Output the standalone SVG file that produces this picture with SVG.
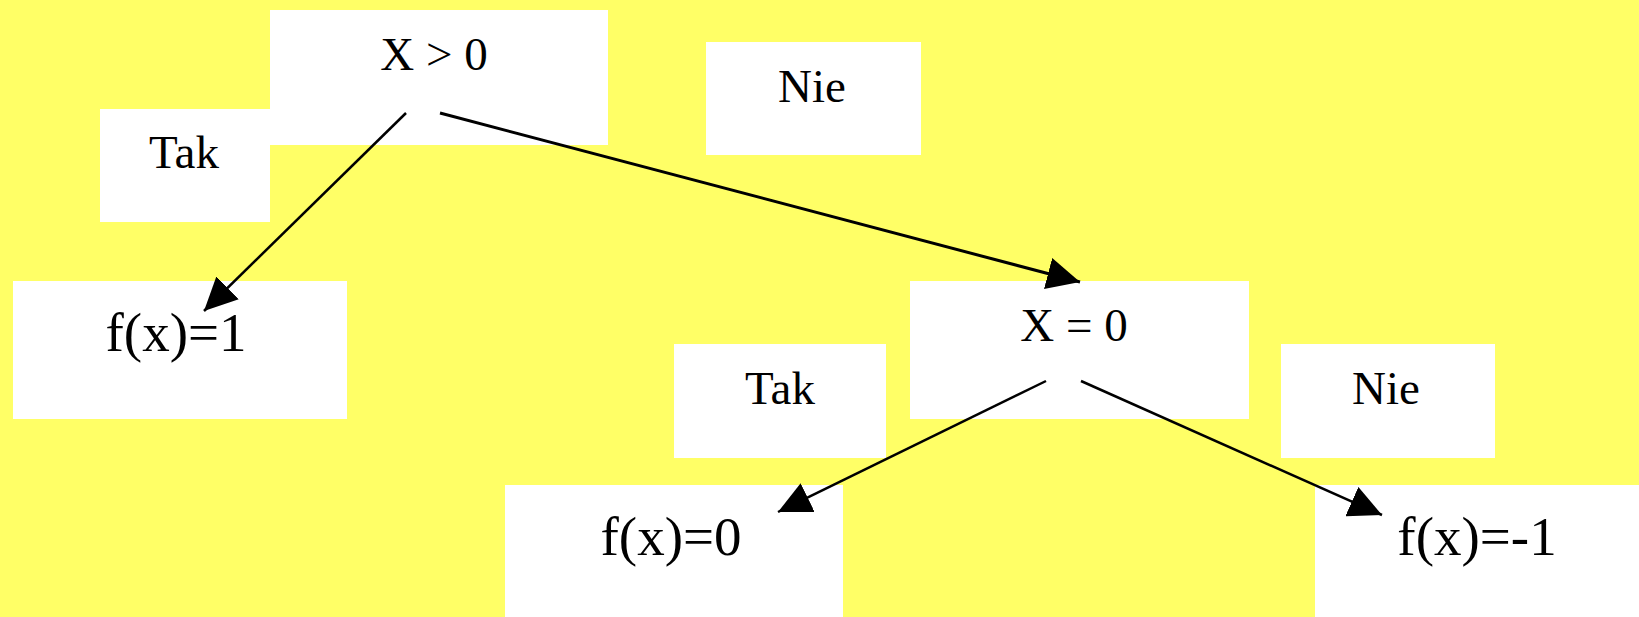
<svg xmlns="http://www.w3.org/2000/svg" width="1639" height="617" viewBox="0 0 1639 617">
<style>
.box{fill:#ffffff;stroke:none}
.lbl{font-family:"Liberation Serif","Times New Roman",serif;font-size:47px;fill:#000;text-anchor:middle}
.fx{font-family:"Liberation Serif","Times New Roman",serif;font-size:55px;fill:#000;text-anchor:middle}
.edge{stroke:#000;stroke-width:2.5;fill:none;marker-end:url(#ah)}
</style>
<defs>
<marker id="ah" viewBox="0 0 33 32" refX="33" refY="16" markerWidth="33" markerHeight="32" markerUnits="userSpaceOnUse" orient="auto">
<path d="M0,0 L33,16 L0,32 z" fill="#000"/>
</marker>
</defs>
<rect x="0" y="0" width="1639" height="617" fill="#ffff66"/>
<g id="n-x-gt-0"><rect class="box" x="270" y="10" width="338" height="135"/><text class="lbl" x="434" y="70">X &gt; 0</text></g>
<g id="l-tak-1"><rect class="box" x="100" y="109" width="170" height="113"/><text class="lbl" x="184" y="168">Tak</text></g>
<g id="l-nie-1"><rect class="box" x="706" y="42" width="215" height="113"/><text class="lbl" x="812" y="102">Nie</text></g>
<g id="n-fx-1"><rect class="box" x="13" y="281" width="334" height="138"/><text class="fx" x="176" y="351">f(x)=1</text></g>
<g id="n-x-eq-0"><rect class="box" x="910" y="281" width="339" height="138"/><text class="lbl" x="1074" y="341">X = 0</text></g>
<g id="l-tak-2"><rect class="box" x="674" y="344" width="212" height="114"/><text class="lbl" x="780" y="404">Tak</text></g>
<g id="l-nie-2"><rect class="box" x="1281" y="344" width="214" height="114"/><text class="lbl" x="1386" y="404">Nie</text></g>
<g id="n-fx-0"><rect class="box" x="505" y="485" width="338" height="132"/><text class="fx" x="671" y="555">f(x)=0</text></g>
<g id="n-fx-m1"><rect class="box" x="1315" y="485" width="324" height="132"/><text class="fx" x="1477" y="555">f(x)=-1</text></g>
<g id="connectors">
<line class="edge" x1="406" y1="113" x2="204" y2="311"/>
<line class="edge" x1="440" y1="113" x2="1080" y2="282" style="stroke-width:3"/>
<line class="edge" x1="1046" y1="381" x2="778" y2="512"/>
<line class="edge" x1="1081" y1="381" x2="1382" y2="515"/>
</g>
</svg>
